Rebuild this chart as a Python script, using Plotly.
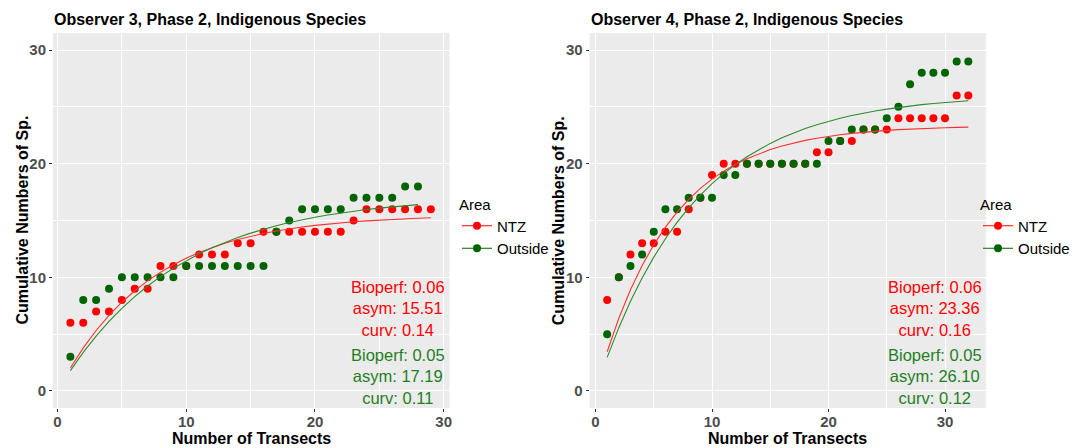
import numpy as np
import plotly.graph_objects as go

# ---------------- data ----------------
x_left_ntz = list(range(1, 30))
y_left_ntz = [6, 6, 7, 7, 8, 9, 9, 11, 11, 11, 12, 12, 12, 13, 13, 14, 14, 14, 14, 14,
              14, 14, 15, 16, 16, 16, 16, 16, 16]
x_left_out = list(range(1, 29))
y_left_out = [3, 8, 8, 9, 10, 10, 10, 10, 10, 11, 11, 11, 11, 11, 11, 11, 14, 15, 16, 16,
              16, 16, 17, 17, 17, 17, 18, 18]

x_right_ntz = list(range(1, 33))
y_right_ntz = [8, 10, 12, 13, 13, 14, 14, 16, 17, 19, 20, 20, 20, 20, 20, 20, 20, 20, 21, 21,
               22, 22, 23, 23, 23, 24, 24, 24, 24, 24, 26, 26]
x_right_out = list(range(1, 33))
y_right_out = [5, 10, 11, 12, 14, 16, 16, 17, 17, 17, 19, 19, 20, 20, 20, 20, 20, 20, 20, 22,
               22, 23, 23, 23, 24, 25, 27, 28, 28, 28, 29, 29]

# fitted asymptotic model parameters shown on chart
left_ntz_fit = {"bioperf": 0.06, "asym": 15.51, "curv": 0.14}
left_out_fit = {"bioperf": 0.05, "asym": 17.19, "curv": 0.11}
right_ntz_fit = {"bioperf": 0.06, "asym": 23.36, "curv": 0.16}
right_out_fit = {"bioperf": 0.05, "asym": 26.10, "curv": 0.12}

titles = ["Observer 3, Phase 2, Indigenous Species", "Observer 4, Phase 2, Indigenous Species"]
area_names = ["NTZ", "Outside"]
x_title = "Number of Transects"
y_title = "Cumulative Numbers of Sp."
x_ticks = [0, 10, 20, 30]
y_ticks = [0, 10, 20, 30]

# ---------------- style ----------------
RED = "#FF0000"
GREEN_PT = "#006400"
GREEN_LINE = "#2E8B2E"
GREEN_TXT = "#1F7F1F"
FONT = "Liberation Sans, Arial, Helvetica, sans-serif"
W, H = 1075, 448

fig = go.Figure()


def fitted(x, p):
    x = np.asarray(x, dtype=float)
    return p["asym"] * (1 - np.exp(-p["curv"] * x))


panels = [
    ("x", "y", x_left_ntz, y_left_ntz, x_left_out, y_left_out, left_ntz_fit, left_out_fit, "legend"),
    ("x2", "y2", x_right_ntz, y_right_ntz, x_right_out, y_right_out, right_ntz_fit, right_out_fit, "legend2"),
]

for xa, ya, xn, yn, xo, yo, pn, po, lg in panels:
    fig.add_trace(go.Scatter(x=xn, y=yn, mode="markers", xaxis=xa, yaxis=ya,
                             marker=dict(color=RED, size=8), showlegend=False))
    fig.add_trace(go.Scatter(x=xo, y=yo, mode="markers", xaxis=xa, yaxis=ya,
                             marker=dict(color=GREEN_PT, size=8), showlegend=False))
    fig.add_trace(go.Scatter(x=xn, y=fitted(xn, pn), mode="lines", xaxis=xa, yaxis=ya,
                             line=dict(color="#FF3030", width=1.1), showlegend=False))
    fig.add_trace(go.Scatter(x=xo, y=fitted(xo, po), mode="lines", xaxis=xa, yaxis=ya,
                             line=dict(color=GREEN_LINE, width=1.1), showlegend=False))
    # legend entries (point + line key, as in ggplot)
    for name, col in zip(area_names, [RED, GREEN_PT]):
        fig.add_trace(go.Scatter(x=[None], y=[None], mode="lines+markers", name=name,
                                 xaxis=xa, yaxis=ya, legend=lg,
                                 marker=dict(color=col, size=8),
                                 line=dict(color=col, width=1)))

# ---------------- layout ----------------
y_dom = [(H - 408) / H, (H - 33) / H]
x_dom1 = [53 / W, 449.5 / W]
x_dom2 = [589.7 / W, 985.8 / W]

axis_common = dict(
    showgrid=True, gridcolor="white", gridwidth=1.1, zeroline=False,
    ticks="outside", ticklen=3, tickcolor="#333333", tickwidth=1,
    tickfont=dict(family=FONT, size=15, color="#4D4D4D", weight="bold"),
    showline=False,
    minor=dict(dtick=5, tick0=0, showgrid=True, gridcolor="white", gridwidth=0.5, ticks=""),
)
xaxis_extra = dict(ticklabelstandoff=-3)

legend_common = dict(
    yanchor="top",
    title=dict(text="Area", font=dict(family=FONT, size=15, color="black")),
    font=dict(family=FONT, size=15, color="black"),
    bgcolor="rgba(0,0,0,0)", tracegroupgap=0, itemwidth=30,
)

fig.update_layout(
    width=W, height=H,
    margin=dict(l=0, r=0, t=0, b=0, autoexpand=False),
    paper_bgcolor="white",
    plot_bgcolor="#EBEBEB",
    font=dict(family=FONT),
    xaxis=dict(axis_common, **xaxis_extra, domain=x_dom1, range=[-0.35, 30.45], tickvals=x_ticks, anchor="y"),
    yaxis=dict(axis_common, domain=y_dom, range=[-1.5, 31.5], tickvals=y_ticks, anchor="x"),
    xaxis2=dict(axis_common, **xaxis_extra, domain=x_dom2, range=[-0.5, 33.5], tickvals=x_ticks, anchor="y2"),
    yaxis2=dict(axis_common, domain=y_dom, range=[-1.5, 31.5], tickvals=y_ticks, anchor="x2"),
    legend=dict(legend_common, x=457 / W, xanchor="left", y=(H - 190) / H),
    legend2=dict(legend_common, x=1.0, xanchor="right", y=(H - 190) / H),
)

annos = []
title_font = dict(family=FONT, size=16, color="black", weight="bold")
for i, (x0, x1) in enumerate([x_dom1, x_dom2]):
    annos.append(dict(text=titles[i], xref="paper", yref="paper", x=x0 - 1 / W, y=(H - 20) / H,
                      xanchor="left", yanchor="middle", showarrow=False, font=title_font))
    annos.append(dict(text=x_title, xref="paper", yref="paper", x=(x0 + x1) / 2, y=(H - 438) / H,
                      xanchor="center", yanchor="middle", showarrow=False, font=title_font))
    annos.append(dict(text=y_title, xref="paper", yref="paper", x=x0 - 31 / W, y=(y_dom[0] + y_dom[1]) / 2,
                      xanchor="center", yanchor="middle", textangle=-90, showarrow=False,
                      font=title_font))

fits = [(left_ntz_fit, left_out_fit), (right_ntz_fit, right_out_fit)]
for i, xr in enumerate([447 / W, 984 / W]):
    pn, po = fits[i]
    for p, col, yc in [(pn, RED, 308), (po, GREEN_TXT, 376)]:
        txt = f"Bioperf: {p['bioperf']:.2f}<br>asym: {p['asym']:.2f}<br>curv: {p['curv']:.2f}"
        annos.append(dict(text=txt, xref="paper", yref="paper", x=xr, y=(H - yc) / H,
                          xanchor="right", yanchor="middle", align="center", showarrow=False,
                          font=dict(family=FONT, size=16.5, color=col)))

fig.update_layout(annotations=annos)

fig.write_html("out.html")
